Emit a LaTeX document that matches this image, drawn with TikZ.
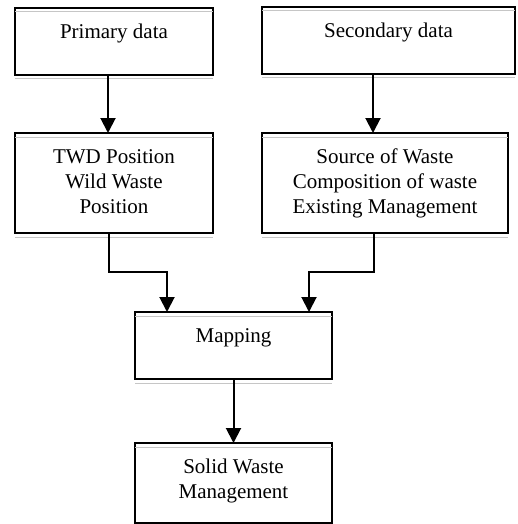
\documentclass[tikz,border=0pt]{standalone}
\usepackage{fontspec}
\setmainfont{Liberation Serif}
\usetikzlibrary{arrows.meta}
\begin{document}
\begin{tikzpicture}[x=1pt,y=-1pt,
  box/.style={draw, line width=1.2pt, inner sep=0pt, outer sep=0pt, rectangle},
  lbl/.style={anchor=north, inner sep=0pt, align=center, font=\fontsize{21}{25}\selectfont},
  arr/.style={line width=2pt, -{Triangle[width=15pt,length=15pt]}},
  shade/.style={gray!45, line width=1pt}]
\useasboundingbox (0,0) rectangle (517,524);
% boxes
\node[box, minimum width=198pt, minimum height=67pt] (p) at (114,41.5) {};
\node[box, minimum width=253pt, minimum height=67pt] (s) at (388.5,40.5) {};
\node[box, minimum width=198pt, minimum height=100pt] (t) at (114,183) {};
\node[box, minimum width=246pt, minimum height=100pt] (c) at (385,183) {};
\node[box, minimum width=197pt, minimum height=67pt] (m) at (233.5,345.5) {};
\node[box, minimum width=197pt, minimum height=80pt] (w) at (233.5,483) {};
% faint double lines
\foreach \n in {p,s,t,c,m,w}{
  \draw[shade] ([yshift=-4pt]\n.north west) -- ([yshift=-4pt]\n.north east);
  \draw[shade] ([yshift=-4pt]\n.south west) -- ([yshift=-4pt]\n.south east);
}
% labels
\node[lbl] (pl) at ([yshift=-16pt]p.north) {Primary data};
\node[lbl] (sl) at ([yshift=-16pt]s.north) {Secondary data};
\node[lbl] (tl) at ([yshift=-16pt]t.north) {TWD Position\\Wild Waste\\Position};
\node[lbl] (cl) at ([yshift=-16pt]c.north) {Source of Waste\\Composition of waste\\Existing Management};
\node[lbl] (ml) at ([yshift=-16pt]m.north) {Mapping};
\node[lbl] (wl) at ([yshift=-16pt]w.north) {Solid Waste\\Management};
% connectors
\draw[arr] ([xshift=-6pt]p.south) -- ([xshift=-6pt]t.north);
\draw[arr] ([xshift=-15.5pt]s.south) -- ([xshift=-15.5pt]s.south |- c.north);
\draw[arr] ([xshift=-5pt]t.south) -- ++(0,39) -| ([xshift=-66.5pt]m.north);
\draw[arr] ([xshift=-11pt]c.south) -- ++(0,39) -| ([xshift=75.5pt]m.north);
\draw[arr] (m.south) -- (w.north);
\end{tikzpicture}
\end{document}
